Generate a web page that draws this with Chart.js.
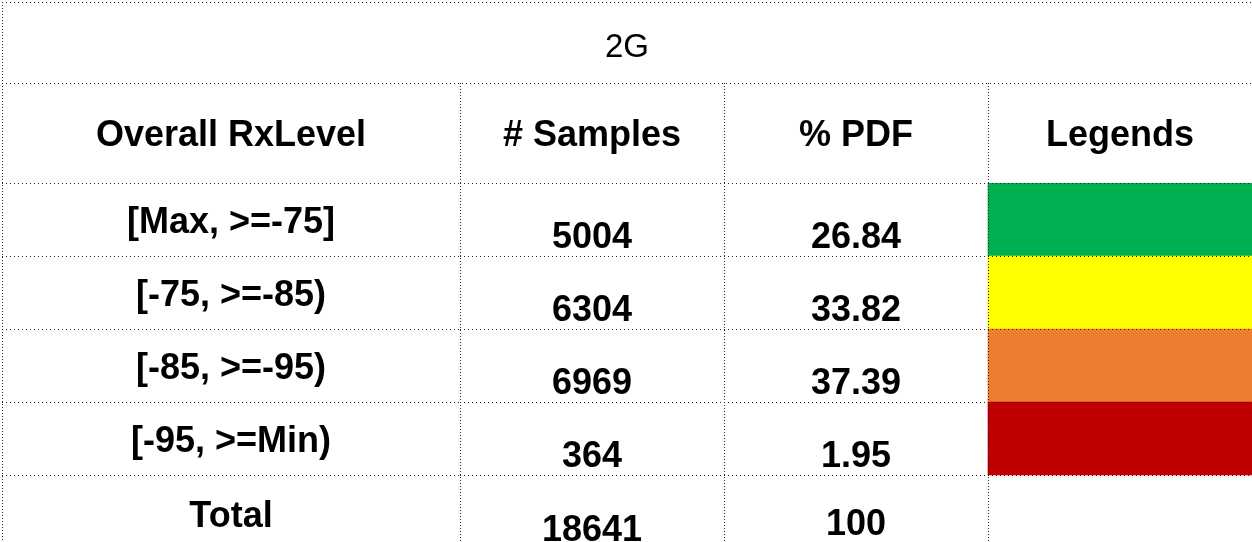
<!DOCTYPE html>
<html>
<head>
<meta charset="utf-8">
<script src="https://cdn.jsdelivr.net/npm/chart.js@4"></script>
<style>
  html, body { margin: 0; padding: 0; background: #fff; overflow: hidden; }
  #wrap { width: 1252px; height: 548px; }
</style>
</head>
<body>
<div id="wrap"><canvas id="chart"></canvas></div>
<script>
// 表のデータ
const tableTitle = '2G';
const headers = ['Overall RxLevel', '# Samples', '% PDF', 'Legends'];
const rangeLabels = ['[Max, >=-75]', '[-75, >=-85)', '[-85, >=-95)', '[-95, >=Min)', 'Total'];
const samples = [5004, 6304, 6969, 364, 18641];
const pdf = [26.84, 33.82, 37.39, 1.95, 100];
const legendColors = ['#00B050', '#FFFF00', '#ED7D31', '#C00000', null];

const lineColor = '#222';
const boldFont = 'bold 36px "Liberation Sans", Arial, sans-serif';

// 枠線と文字の描画
const tablePlugin = {
  id: 'tableText',
  afterDraw(chart) {
    const ctx = chart.ctx;
    const x = chart.scales.x;
    const y = chart.scales.y;
    const left = y.left;
    const right = x.right;
    ctx.save();
    // 外枠と見出し行の線
    ctx.strokeStyle = lineColor;
    ctx.lineWidth = 1;
    ctx.setLineDash([1, 3]);
    ctx.beginPath();
    ctx.moveTo(left, 2.5); ctx.lineTo(right, 2.5);
    ctx.moveTo(left, x.top + 0.5); ctx.lineTo(right, x.top + 0.5);
    ctx.stroke();
    ctx.setLineDash([1, 2]);
    ctx.beginPath();
    ctx.moveTo(left + 0.5, 2); ctx.lineTo(left + 0.5, chart.height);
    ctx.stroke();

    ctx.fillStyle = '#000';
    ctx.textAlign = 'center';
    ctx.textBaseline = 'alphabetic';
    // タイトル
    ctx.font = '33px "Liberation Sans", Arial, sans-serif';
    ctx.fillText(tableTitle, (left + right) / 2, (2 + x.top) / 2 + 14);

    // 見出し
    const col0 = (y.left + y.right) / 2;
    const colX = [col0, x.getPixelForValue(0.5), x.getPixelForValue(1.5), x.getPixelForValue(2.5)];
    const headY = (x.top + x.bottom) / 2 + 13;
    ctx.font = boldFont;
    headers.forEach((h, i) => ctx.fillText(h, colX[i], headY));

    // 各行
    rangeLabels.forEach((label, i) => {
      const cy = y.getPixelForValue(i);
      const isTotal = i === rangeLabels.length - 1;
      ctx.fillText(label, colX[0], cy + (isTotal ? 15 : 13));
      ctx.fillText(String(samples[i]), colX[1], cy + (isTotal ? 29 : 28));
      ctx.fillText(String(pdf[i]), colX[2], cy + (isTotal ? 23 : 28));
    });
    ctx.restore();
  }
};

new Chart(document.getElementById('chart'), {
  type: 'bar',
  data: {
    labels: rangeLabels,
    datasets: [{
      data: legendColors.map(c => (c ? [2, 3] : null)),
      backgroundColor: legendColors,
      borderWidth: 0,
      barPercentage: 1,
      categoryPercentage: 1
    }]
  },
  options: {
    indexAxis: 'y',
    responsive: true,
    maintainAspectRatio: false,
    animation: false,
    layout: { padding: { left: 2, top: 83, right: 0, bottom: 0 } },
    plugins: {
      legend: { display: false },
      tooltip: { enabled: false },
      title: { display: false }
    },
    scales: {
      x: {
        type: 'linear',
        position: 'top',
        min: 0,
        max: 3,
        ticks: { display: false, stepSize: 1 },
        grid: { z: 1, color: lineColor, lineWidth: 1, tickLength: 100, tickBorderDash: [1, 2] },
        border: { display: false, dash: [1, 2] },
        afterFit: s => { s.height = 100; }
      },
      y: {
        type: 'category',
        position: 'left',
        offset: true,
        ticks: { display: false },
        grid: { z: 1, offset: true, color: lineColor, lineWidth: 1, tickLength: 458, tickBorderDash: [1, 3] },
        border: { display: false, dash: [1, 3] },
        afterFit: s => { s.width = 458; }
      }
    }
  },
  plugins: [tablePlugin]
});
</script>
</body>
</html>
